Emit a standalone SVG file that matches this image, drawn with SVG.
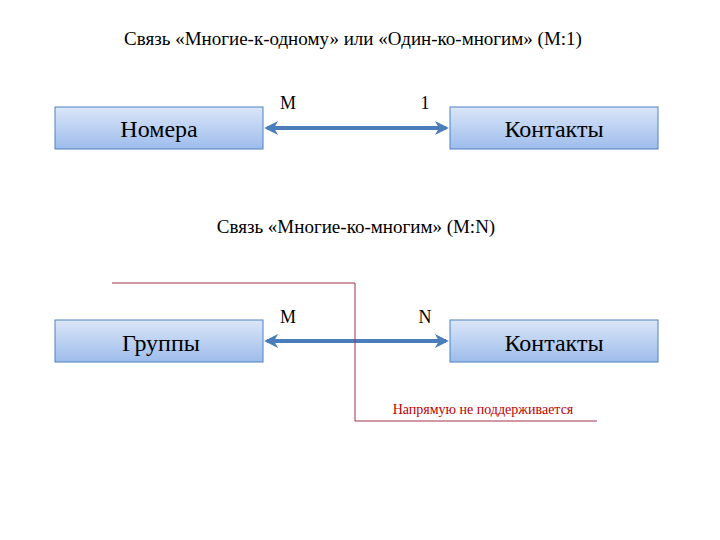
<svg xmlns="http://www.w3.org/2000/svg" width="720" height="540" viewBox="0 0 720 540">
<style>
.box{fill:url(#g);stroke:#4f81bd;stroke-width:1}
.conn{stroke:#4a7ebb;stroke-width:4;fill:none;marker-start:url(#a);marker-end:url(#a)}
.t{font-family:"Liberation Serif","DejaVu Serif",serif}
</style>
<defs>
<linearGradient id="g" x1="0" y1="0" x2="0" y2="1"><stop offset="0" stop-color="#dbe6f8"/><stop offset="1" stop-color="#9dbcec"/></linearGradient>
<marker id="a" viewBox="0 0 10 10" refX="8" refY="5" markerWidth="3.5" markerHeight="3.5" orient="auto-start-reverse"><path d="M0,0 L10,5 L0,10 L3,5 Z" fill="#4a7ebb"/></marker>
</defs>
<g class="t" fill="#000">
<text x="353" y="45" font-size="19" text-anchor="middle">Связь «Многие-к-одному» или «Один-ко-многим» (M:1)</text>
<text x="356" y="233" font-size="19" text-anchor="middle">Связь «Многие-ко-многим» (M:N)</text>
<g id="n1"><rect class="box" x="55" y="107" width="208" height="42"/><text font-size="24" x="159" y="137" text-anchor="middle">Номера</text></g>
<g id="n2"><rect class="box" x="450" y="107" width="208" height="42"/><text font-size="24" x="554" y="137" text-anchor="middle">Контакты</text></g>
<g id="n3"><rect class="box" x="55" y="320" width="208" height="42"/><text font-size="24" x="161" y="351" text-anchor="middle">Группы</text></g>
<g id="n4"><rect class="box" x="450" y="320" width="208" height="42"/><text font-size="24" x="554" y="351" text-anchor="middle">Контакты</text></g>
<g id="connectors">
<line class="conn" x1="267" y1="128" x2="446" y2="128"/>
<line class="conn" x1="267" y1="341" x2="446" y2="341"/>
<polyline points="112,283 355,283 355,421 597,421" fill="none" stroke="#a0324a" stroke-width="1"/>
</g>
<text font-size="18" x="288" y="109" text-anchor="middle">M</text>
<text font-size="18" x="425" y="109" text-anchor="middle">1</text>
<text font-size="18" x="288" y="323" text-anchor="middle">M</text>
<text font-size="18" x="425" y="323" text-anchor="middle">N</text>
<text x="483" y="414" font-size="14" text-anchor="middle" fill="#c00000">Напрямую не поддерживается</text>
</g>
</svg>
